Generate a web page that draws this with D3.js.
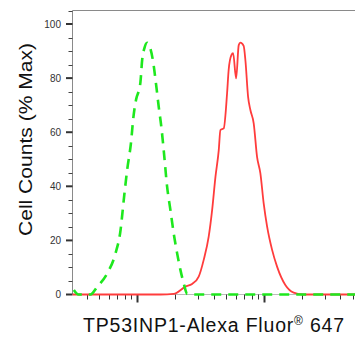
<!DOCTYPE html>
<html>
<head>
<meta charset="utf-8">
<script src="https://cdn.jsdelivr.net/npm/d3@7"></script>
<style>
  body { margin: 0; background: #fff; }
  svg { display: block; }
</style>
</head>
<body>
<svg></svg>
<script>
const width = 355;
const height = 338;

// control (isotype) histogram, fluorescence vs % max
const ctrlX = [31.7, 34.5, 42.9, 48.4, 58.1, 67.5, 74.0, 78.4, 83.4, 89.7, 93.1, 98.7, 102.4, 106.2, 109.5, 114.1, 119.9, 125.0, 133.7, 141.2, 148.0, 155.4, 161.9, 172.2, 182.9, 194.1, 206.6, 219.2, 232.8, 247.9, 287.7, 5300];
const ctrlY = [1.7, 0, 0, 2.8, 7.8, 15.2, 23.8, 34.9, 46.0, 56.7, 64.9, 72.6, 74.9, 78.6, 86.7, 91.1, 93.1, 91.9, 86.0, 77.4, 69.3, 61.6, 53.4, 39.9, 31.2, 22.6, 15.2, 9.1, 4.1, 0.2, 0, 0];

// TP53INP1 stained histogram
const stainX = [31, 152.5, 194.1, 240.1, 271.0, 305.5, 334.5, 366.2, 389.7, 414.0, 439.6, 452.9, 481.0, 511.2, 526.0, 552.6, 570.2, 602.4, 631.5, 650.7, 690.6, 713.0, 748.4, 780.4, 828.6, 880.6, 935.4, 993.1, 1057, 1157, 1266, 1471, 1711, 2051, 5300];
const stainY = [0, 0, 0.2, 2.9, 3.9, 6.6, 12.8, 21.4, 31.2, 43.5, 53.4, 60.8, 61.4, 74.4, 83.0, 88.5, 89.2, 79.9, 92.2, 93.1, 91.9, 86.5, 73.1, 68.2, 63.3, 50.9, 44.8, 33.7, 25.1, 16.5, 10.3, 3.5, 0.7, 0, 0];

const yTicks = [0, 20, 40, 60, 80, 100];
const xTitle = "TP53INP1-Alexa Fluor";
const xTitleEnd = " 647";
const yTitle = "Cell Counts (% Max)";

const svg = d3.select("svg").attr("width", width).attr("height", height);

const plotLeft = 72.5, plotRight = 355, plotTop = 10.5, plotBottom = 294.5;

const x = d3.scaleLog()
    .domain([Math.pow(10, 1.4906), Math.pow(10, 3.7165)])
    .range([plotLeft, plotRight]);

const y = d3.scaleLinear().domain([0, 105]).range([plotBottom, plotTop]);

// frame lines
svg.append("line")
    .attr("x1", plotLeft).attr("x2", plotLeft).attr("y1", plotTop).attr("y2", plotBottom)
    .attr("stroke", "#8a8a8a").attr("stroke-width", 1);
svg.append("line")
    .attr("x1", plotLeft).attr("x2", plotRight).attr("y1", plotTop).attr("y2", plotTop)
    .attr("stroke", "#8a8a8a").attr("stroke-width", 1);
svg.append("line")
    .attr("x1", plotLeft).attr("x2", plotRight).attr("y1", plotBottom).attr("y2", plotBottom)
    .attr("stroke", "#bbbbbb").attr("stroke-width", 1);

// y ticks
const minorY = d3.range(0, 106, 5).filter(v => v % 20 !== 0);
svg.append("g").selectAll("line")
    .data(minorY)
    .enter().append("line")
    .attr("x1", plotLeft - 4).attr("x2", plotLeft)
    .attr("y1", d => Math.round(y(d)) + 0.5).attr("y2", d => Math.round(y(d)) + 0.5)
    .attr("stroke", "#444").attr("stroke-width", 1);
svg.append("g").selectAll("line")
    .data(yTicks)
    .enter().append("line")
    .attr("x1", plotLeft - 6.5).attr("x2", plotLeft)
    .attr("y1", d => y(d)).attr("y2", d => y(d))
    .attr("stroke", "#333").attr("stroke-width", 2);
svg.append("g").selectAll("text")
    .data(yTicks)
    .enter().append("text")
    .attr("x", 61)
    .attr("y", d => y(d) + 3.5)
    .attr("text-anchor", "end")
    .attr("font-family", "Liberation Sans, Arial, sans-serif")
    .attr("font-size", 10)
    .attr("fill", "#333")
    .text(d => d);

// x ticks (log decades)
const xTickVals = [];
for (let e = 1; e <= 3; e++) {
    for (let k = 1; k <= 9; k++) {
        const v = k * Math.pow(10, e);
        if (v >= x.domain()[0] && v <= x.domain()[1]) xTickVals.push(v);
    }
}
const isMajor = v => Math.abs(Math.log10(v) - Math.round(Math.log10(v))) < 1e-6;
svg.append("g").selectAll("line")
    .data(xTickVals)
    .enter().append("line")
    .attr("x1", d => Math.round(x(d)) + 0.5).attr("x2", d => Math.round(x(d)) + 0.5)
    .attr("y1", plotBottom)
    .attr("y2", d => plotBottom + (isMajor(d) ? 8 : 5))
    .attr("stroke", "#333")
    .attr("stroke-width", d => (isMajor(d) ? 2 : 1));

// histograms
const line = d3.line()
    .x(d => x(d[0]))
    .y(d => y(d[1]))
    .curve(d3.curveMonotoneX);

svg.append("path")
    .datum(stainX.map((v, i) => [v, stainY[i]]))
    .attr("d", line)
    .attr("fill", "none")
    .attr("stroke", "#ff3c3c")
    .attr("stroke-width", 1.8);

svg.append("path")
    .datum(ctrlX.map((v, i) => [v, ctrlY[i]]))
    .attr("d", line)
    .attr("fill", "none")
    .attr("stroke", "#1ee81e")
    .attr("stroke-width", 2.6)
    .attr("stroke-dasharray", "10,7");

// axis titles
svg.append("text")
    .attr("transform", "translate(31.5,139.5) rotate(-90)")
    .attr("text-anchor", "middle")
    .attr("font-family", "Liberation Sans, Arial, sans-serif")
    .attr("font-size", 18.5)
    .attr("fill", "#111")
    .attr("textLength", 193)
    .attr("lengthAdjust", "spacingAndGlyphs")
    .text(yTitle);

const xt = svg.append("text")
    .attr("x", 83)
    .attr("y", 331.5)
    .attr("font-family", "Liberation Sans, Arial, sans-serif")
    .attr("font-size", 19.5)
    .attr("letter-spacing", 0.8)
    .attr("fill", "#111");
xt.append("tspan").text(xTitle);
xt.append("tspan").attr("font-size", 12).attr("dy", -7).text("®");
xt.append("tspan").attr("dy", 7).text(xTitleEnd);
</script>
</body>
</html>
